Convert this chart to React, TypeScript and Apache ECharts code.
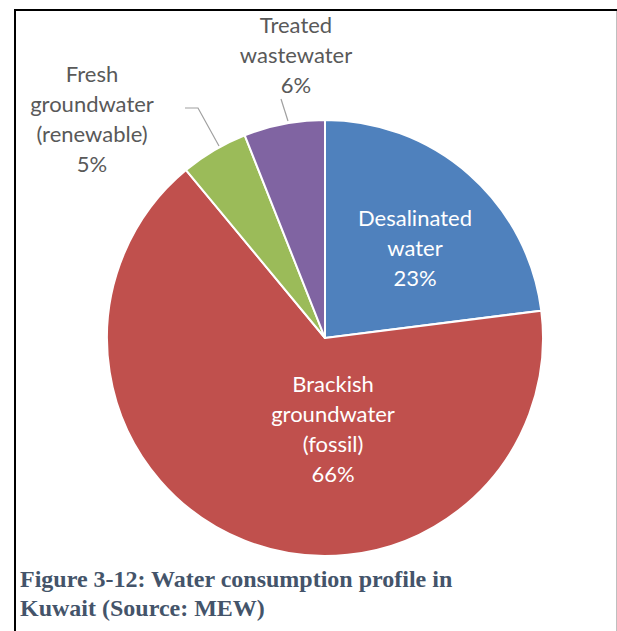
import React, { useEffect, useRef } from "react";
import * as echarts from "echarts";

const categories = [
  "Desalinated\nwater",
  "Brackish\ngroundwater\n(fossil)",
  "Fresh\ngroundwater\n(renewable)",
  "Treated\nwastewater",
];
const shares = [23, 66, 5, 6];
const colors = ["#4F81BD", "#C0504D", "#9BBB59", "#8064A2"];
const insideFlags = [true, true, false, false];
const captionLines = ["Figure 3-12: Water consumption profile in", "Kuwait (Source: MEW)"];

// label placement (layout, not data)
const labelPos: Record<number, { x: number; y: number; line?: number[][] }> = {
  0: { x: 415, y: 247 },
  1: { x: 333, y: 428 },
  2: { x: 92, y: 118, line: [[219, 146], [198, 108], [185, 108]] },
  3: { x: 296, y: 54, line: [[288, 121], [284.5, 110], [281, 99]] },
};

export default function App() {
  const ref = useRef<HTMLDivElement>(null);
  useEffect(() => {
    if (!ref.current) return;
    const chart = echarts.init(ref.current, null, { renderer: "svg" });
    const data = categories.map((name, i) => ({
      name,
      value: shares[i],
      itemStyle: { color: colors[i] },
      label: insideFlags[i]
        ? { position: "inside", color: "#FFFFFF" }
        : { position: "outside", color: "#595959" },
      labelLine: { show: !insideFlags[i] },
    }));
    chart.setOption({
      animation: false,
      backgroundColor: "#FFFFFF",
      title: {
        text: captionLines.join("\n"),
        left: 20,
        top: 564,
        padding: 0,
        textStyle: {
          fontFamily: "Liberation Serif",
          fontSize: 24,
          fontWeight: "bold",
          color: "#44546A",
          lineHeight: 29,
        },
      },
      graphic: [
        { type: "line", shape: { x1: 14, y1: 10, x2: 617, y2: 10 }, style: { stroke: "#000", lineWidth: 2 } },
        { type: "line", shape: { x1: 15, y1: 9, x2: 15, y2: 631 }, style: { stroke: "#000", lineWidth: 2 } },
        { type: "line", shape: { x1: 616.5, y1: 11, x2: 616.5, y2: 631 }, style: { stroke: "#BFBFBF", lineWidth: 1 } },
      ],
      series: [
        {
          type: "pie",
          center: [325, 338],
          radius: 218,
          startAngle: 90,
          clockwise: true,
          itemStyle: { borderColor: "#FFFFFF", borderWidth: 2 },
          label: {
            formatter: (p: any) => `${p.name}\n${p.value}%`,
            fontFamily: "Lato",
            fontSize: 22,
            lineHeight: 30,
            align: "center",
            overflow: "none",
          },
          labelLine: { lineStyle: { color: "#A0A0A0", width: 1.2 } },
          labelLayout: (params: any) => {
            const pos = labelPos[params.dataIndex];
            const out: any = { x: pos.x, y: pos.y, align: "center", verticalAlign: "middle" };
            if (pos.line) out.labelLinePoints = pos.line;
            return out;
          },
          data,
        },
      ],
    });
    return () => chart.dispose();
  }, []);
  return (
    <div
      ref={ref}
      style={{ position: "fixed", left: 0, top: 0, width: 617, height: 631 }}
    />
  );
}
